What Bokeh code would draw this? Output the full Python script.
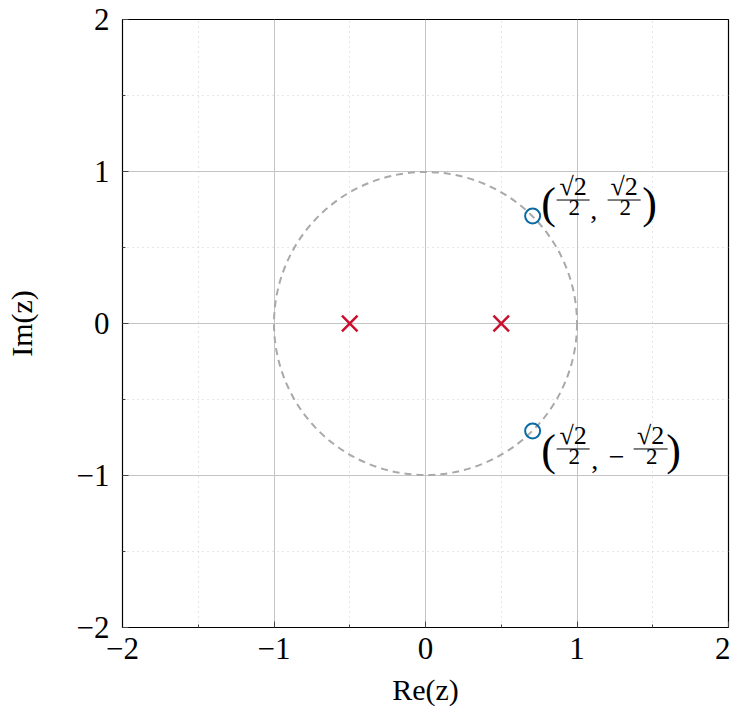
from bokeh.plotting import figure
from bokeh.models import FixedTicker, Label
from bokeh.embed import file_html
from bokeh.resources import INLINE

# ---- data ----
pole_re = [-0.5, 0.5]
pole_im = [0.0, 0.0]
zero_re = [0.7071, 0.7071]
zero_im = [0.7071, -0.7071]
unit_circle_radius = [1.0]
tick_values = [-2, -1, 0, 1, 2]
tick_labels = ["\u22122", "\u22121", "0", "1", "2"]
minor_values = [-1.5, -0.5, 0.5, 1.5]

SERIF = "Liberation Serif"
FRAME_W, FRAME_H = 606, 608
X0, X1, Y0, Y1 = -2, 2, -2, 2

p = figure(frame_width=FRAME_W, frame_height=FRAME_H,
           x_range=(X0, X1), y_range=(Y0, Y1),
           output_backend="svg", toolbar_location=None,
           min_border_left=122, min_border_right=2,
           min_border_top=19, min_border_bottom=81)
p.background_fill_color = "white"
p.border_fill_color = "white"
p.outline_line_color = "black"
p.outline_line_width = 1.2

for ax in (p.xaxis, p.yaxis):
    ax.ticker = FixedTicker(ticks=tick_values, minor_ticks=minor_values)
    ax.major_label_overrides = {v: s for v, s in zip(tick_values, tick_labels)}
    ax.major_label_text_font = SERIF
    ax.major_label_text_font_size = "31px"
    ax.major_label_text_color = "black"
    ax.axis_line_color = "black"
    ax.major_tick_in = 6
    ax.major_tick_out = 0
    ax.minor_tick_in = 3
    ax.minor_tick_out = 0
    ax.major_tick_line_color = "#444444"
    ax.minor_tick_line_color = "#444444"
    ax.axis_label_text_font = SERIF
    ax.axis_label_text_font_size = "30px"
    ax.axis_label_text_font_style = "normal"
    ax.axis_label_text_color = "black"

p.xaxis.axis_label = "Re(z)"
p.yaxis.axis_label = "Im(z)"
p.xaxis.major_label_standoff = 10
p.yaxis.major_label_standoff = 13
p.xaxis.axis_label_standoff = 11
p.yaxis.axis_label_standoff = 36

for g in (p.xgrid, p.ygrid):
    g.ticker = FixedTicker(ticks=tick_values, minor_ticks=minor_values)
    g.grid_line_color = "#c4c4c4"
    g.grid_line_width = 1
    g.minor_grid_line_color = "#cccccc"
    g.minor_grid_line_dash = "1 4"
    g.minor_grid_line_width = 1

# unit circle
p.circle(x=[0], y=[0], radius=unit_circle_radius, fill_color=None,
         line_color="#a9a9a9", line_width=2, line_dash="7 5")

# poles
p.scatter(x=pole_re, y=pole_im, marker="x", size=22,
          line_color="#c8102e", line_width=2.5)
# zeros
p.scatter(x=zero_re, y=zero_im, marker="circle", size=15,
          fill_color=None, line_color="#0a6aa3", line_width=2)

# ---- annotation labels (built from pieces, positioned relative to zeros) ----
sx = FRAME_W / (X1 - X0)
sy = FRAME_H / (Y1 - Y0)


def piece(px, py, dx, dy, text, size, align="center", baseline="alphabetic"):
    p.add_layout(Label(x=px, y=py, x_offset=dx, y_offset=-dy, text=text,
                       text_font=SERIF, text_font_size=size,
                       text_align=align, text_baseline=baseline,
                       text_color="black"))


def fraction(px, py, dx0, dx1, dy, num, den):
    cx = (dx0 + dx1) / 2
    piece(px, py, cx, dy + 1, num, "26px", baseline="bottom")
    p.segment(x0=[px + dx0 / sx], y0=[py - dy / sy],
              x1=[px + dx1 / sx], y1=[py - dy / sy],
              line_color="black", line_width=1)
    piece(px, py, cx + 1, dy, den, "23px", baseline="top")


# upper zero: (sqrt2/2, sqrt2/2)
ux, uy = zero_re[0], zero_im[0]
piece(ux, uy, 16, -13, "(", "44px", baseline="middle")
fraction(ux, uy, 24, 57, -16, "\u221a2", "2")
piece(ux, uy, 61, -6, ",", "28px")
fraction(ux, uy, 75, 108, -16, "\u221a2", "2")
piece(ux, uy, 117, -13, ")", "44px", baseline="middle")

# lower zero: (sqrt2/2, -sqrt2/2)
lx, ly = zero_re[1], zero_im[1]
piece(lx, ly, 16, 20, "(", "44px", baseline="middle")
fraction(lx, ly, 24, 57, 18, "\u221a2", "2")
piece(lx, ly, 62, 29, ",", "28px")
piece(lx, ly, 84, 26, "\u2212", "28px")
fraction(lx, ly, 101, 135, 18, "\u221a2", "2")
piece(lx, ly, 141, 20, ")", "44px", baseline="middle")

open("out.html", "w").write(file_html(p, INLINE))
